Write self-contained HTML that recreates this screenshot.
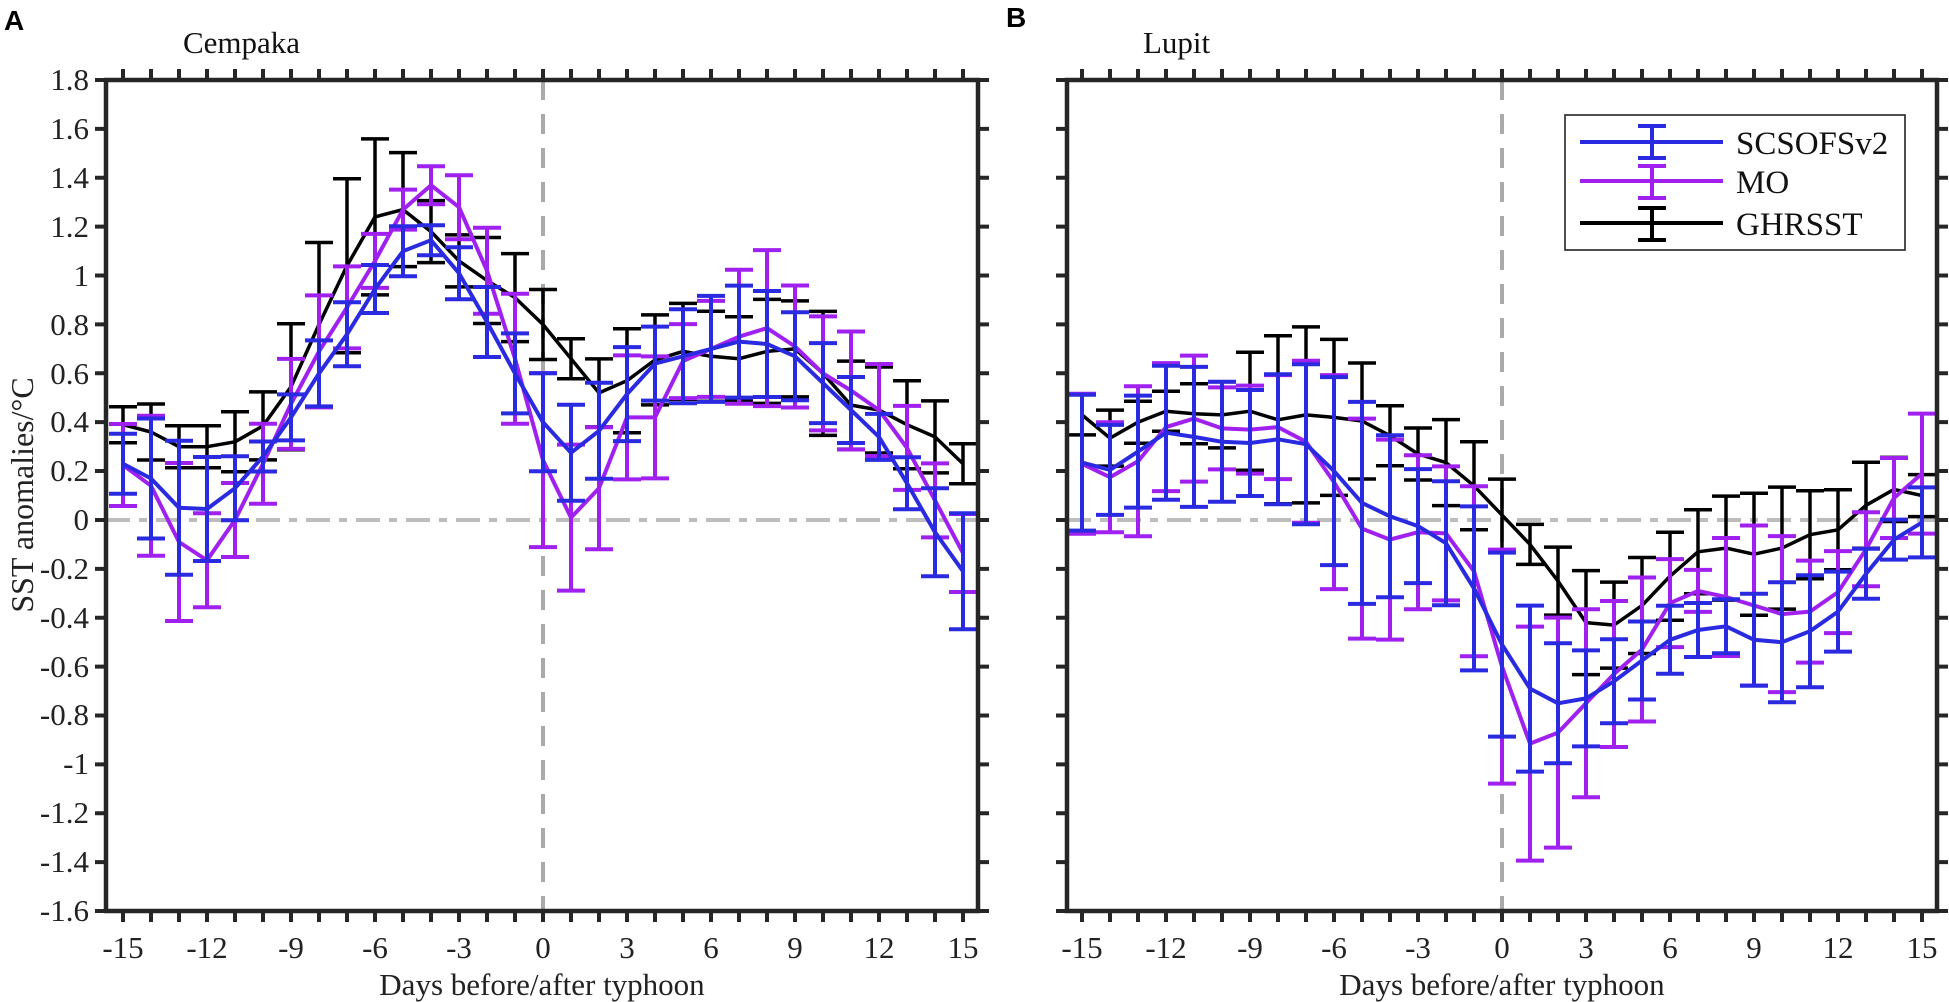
<!DOCTYPE html>
<html><head><meta charset="utf-8"><style>
html,body{margin:0;padding:0;background:#fff;}
svg{display:block;font-family:"Liberation Serif",serif;}
</style></head><body>
<svg id="s" width="1949" height="1002" viewBox="0 0 1949 1002" xmlns="http://www.w3.org/2000/svg">
<rect width="1949" height="1002" fill="#fff"/>
<g id="plots"></g>
<!-- panel letters / titles -->
<text x="4" y="30" font-family="Liberation Sans, sans-serif" font-weight="bold" font-size="28" fill="#000">A</text>
<text x="1006" y="27" font-family="Liberation Sans, sans-serif" font-weight="bold" font-size="28" fill="#000">B</text>
<text x="183" y="53" font-size="31" fill="#111">Cempaka</text>
<text x="1143" y="53" font-size="31" fill="#111">Lupit</text>
<!-- y labels -->
<g font-size="31" fill="#222" text-anchor="end">
<text x="89" y="90">1.8</text><text x="89" y="139">1.6</text><text x="89" y="188">1.4</text>
<text x="89" y="237">1.2</text><text x="89" y="286">1</text><text x="89" y="335">0.8</text>
<text x="89" y="384">0.6</text><text x="89" y="432">0.4</text><text x="89" y="481">0.2</text>
<text x="89" y="530">0</text><text x="89" y="579">-0.2</text><text x="89" y="628">-0.4</text>
<text x="89" y="677">-0.6</text><text x="89" y="725">-0.8</text><text x="89" y="774">-1</text>
<text x="89" y="823">-1.2</text><text x="89" y="872">-1.4</text><text x="89" y="921">-1.6</text>
</g>
<text transform="translate(33,495) rotate(-90)" font-size="32" fill="#222" text-anchor="middle">SST anomalies/°C</text>
<!-- x labels -->
<g font-size="31" fill="#222" text-anchor="middle">
<text x="123" y="958">-15</text><text x="207" y="958">-12</text><text x="291" y="958">-9</text>
<text x="375" y="958">-6</text><text x="459" y="958">-3</text><text x="543" y="958">0</text>
<text x="627" y="958">3</text><text x="711" y="958">6</text><text x="795" y="958">9</text>
<text x="879" y="958">12</text><text x="963" y="958">15</text>
<text x="1082" y="958">-15</text><text x="1166" y="958">-12</text><text x="1250" y="958">-9</text>
<text x="1334" y="958">-6</text><text x="1418" y="958">-3</text><text x="1502" y="958">0</text>
<text x="1586" y="958">3</text><text x="1670" y="958">6</text><text x="1754" y="958">9</text>
<text x="1838" y="958">12</text><text x="1922" y="958">15</text>
</g>
<g font-size="31" fill="#222" text-anchor="middle">
<text x="542" y="995">Days before/after typhoon</text>
<text x="1502" y="995">Days before/after typhoon</text>
</g>
<!-- legend -->
<rect x="1565" y="115" width="340" height="135" fill="#fff" stroke="#222" stroke-width="1.6"/>
<g stroke-width="4" fill="none">
<path d="M1580 142H1723M1652 126V158M1638 126H1666M1638 158H1666" stroke="#2a2ae0"/>
<path d="M1580 181H1723M1652 166V198M1638 166H1666M1638 198H1666" stroke="#a020f0"/>
<path d="M1580 223H1723M1652 208V240M1638 208H1666M1638 240H1666" stroke="#000"/>
</g>
<g font-size="33" fill="#111">
<text x="1736" y="154">SCSOFSv2</text>
<text x="1736" y="193">MO</text>
<text x="1736" y="235">GHRSST</text>
</g>
</svg>
<script>
(function(){
var NS="http://www.w3.org/2000/svg",g=document.getElementById("plots");
function el(t,a){var e=document.createElementNS(NS,t);for(var k in a)e.setAttribute(k,a[k]);g.insertBefore(e,g.firstChild?null:null);g.appendChild(e);return e;}
var TOP=80,BOT=911,Z=520,S=244.4;
function Y(v){return Z-v*S;}
// value, half-height px
var A={
k:[[.39,18],[.36,28],[.30,21],[.30,21],[.32,30],[.385,34],[.545,63],[.80,82],[1.04,87],[1.24,78],[1.27,57],[1.18,31],[1.06,26],[.98,43],[.91,44],[.80,35],[.66,20],[.52,34],[.57,52],[.655,45],[.69,48],[.67,45],[.66,42],[.69,52],[.70,48],[.60,62],[.47,44],[.45,43],[.39,44],[.34,36],[.23,20]],
p:[[.225,41],[.14,70],[-.09,79],[-.165,47],[0,37],[.23,40],[.475,45],[.69,56],[.87,41],[1.06,27],[1.27,20],[1.37,19],[1.28,32],[1.02,43],[.66,65],[.245,87],[.01,73],[.13,61],[.42,62],[.42,61],[.65,37],[.70,48],[.75,67],[.785,78],[.71,61],[.60,57],[.53,59],[.45,46],[.295,42],[.08,37],[-.135,39]],
b:[[.23,30],[.17,60],[.05,67],[.045,52],[.13,32],[.26,15],[.42,23],[.60,33],[.76,32],[.945,24],[1.10,25],[1.145,15],[1.01,26],[.81,35],[.60,40],[.40,49],[.275,48],[.365,48],[.515,47],[.64,37],[.67,47],[.70,53],[.73,56],[.72,53],[.67,44],[.56,40],[.45,33],[.34,23],[.15,26],[-.05,44],[-.21,58]]
};
var B={
k:[[.43,20],[.335,28],[.40,21],[.445,20],[.435,30],[.43,33],[.445,59],[.41,84],[.43,88],[.42,78],[.405,58],[.345,30],[.27,26],[.235,43],[.14,44],[.02,36],[-.10,20],[-.25,34],[-.42,52],[-.43,43],[-.35,48],[-.23,44],[-.13,42],[-.115,52],[-.14,61],[-.115,61],[-.06,44],[-.04,40],[.06,43],[.125,32],[.10,21]],
p:[[.23,70],[.175,55],[.24,75],[.38,64],[.415,63],[.375,41],[.37,44],[.38,52],[.32,81],[.155,107],[-.035,110],[-.08,100],[-.05,77],[-.055,67],[-.21,85],[-.60,117],[-.915,117],[-.87,115],[-.75,94],[-.63,73],[-.53,72],[-.34,44],[-.29,21],[-.315,59],[-.35,80],[-.385,78],[-.375,51],[-.295,41],[-.12,37],[.09,40],[.19,60]],
b:[[.235,68],[.205,45],[.28,56],[.357,67],[.34,70],[.32,60],[.315,53],[.33,65],[.31,80],[.20,94],[.07,101],[.015,81],[-.025,57],[-.095,62],[-.28,82],[-.51,92],[-.69,83],[-.75,60],[-.73,48],[-.66,42],[-.575,39],[-.49,34],[-.45,27],[-.435,27],[-.49,46],[-.50,60],[-.455,56],[-.375,40],[-.22,25],[-.08,20],[-.01,35]]
};
var COL={k:"#000",p:"#a020f0",b:"#2a2ae0"};
function panel(L,R,x0,D){
 // zero line
 el("line",{x1:L,x2:R,y1:Z,y2:Z,stroke:"#bdbdbd","stroke-width":4,"stroke-dasharray":"24 9 8 9"});
 var xz=x0+28*15;
 el("line",{x1:xz,x2:xz,y1:TOP,y2:BOT,stroke:"#aaa","stroke-width":4,"stroke-dasharray":"20 14"});
 ["k","p","b"].forEach(function(s){
  var d="",e="";
  D[s].forEach(function(v,i){
   var x=x0+28*i,y=Y(v[0]),h=v[1];
   d+=(i?"L":"M")+x.toFixed(1)+" "+y.toFixed(1);
   e+="M"+x+" "+(y-h).toFixed(1)+"V"+(y+h).toFixed(1)+"M"+(x-14)+" "+(y-h).toFixed(1)+"H"+(x+14)+"M"+(x-14)+" "+(y+h).toFixed(1)+"H"+(x+14);
  });
  el("path",{d:e,stroke:COL[s],"stroke-width":s=="k"?3.5:4,fill:"none"});
  el("path",{d:d,stroke:COL[s],"stroke-width":s=="k"?3.5:4,fill:"none","stroke-linejoin":"round"});
 });
 // frame & ticks
 var t="";
 for(var i=0;i<=17;i++){var y=TOP+i*(BOT-TOP)/17;t+="M"+(L-11)+" "+y+"H"+L+"M"+R+" "+y+"H"+(R+11);}
 for(var i=0;i<=30;i++){var x=x0+28*i;t+="M"+x+" "+TOP+"V"+(TOP-11)+"M"+x+" "+BOT+"V"+(BOT+11);}
 el("path",{d:t,stroke:"#262626","stroke-width":4,fill:"none"});
 el("rect",{x:L,y:TOP,width:R-L,height:BOT-TOP,fill:"none",stroke:"#262626","stroke-width":4.5});
}
panel(106,978,123,A);
panel(1067,1937,1082,B);
// move legend above plots: plots group is first; re-append legend elements after
var s=document.getElementById("s");
})();
</script>
</body></html>
